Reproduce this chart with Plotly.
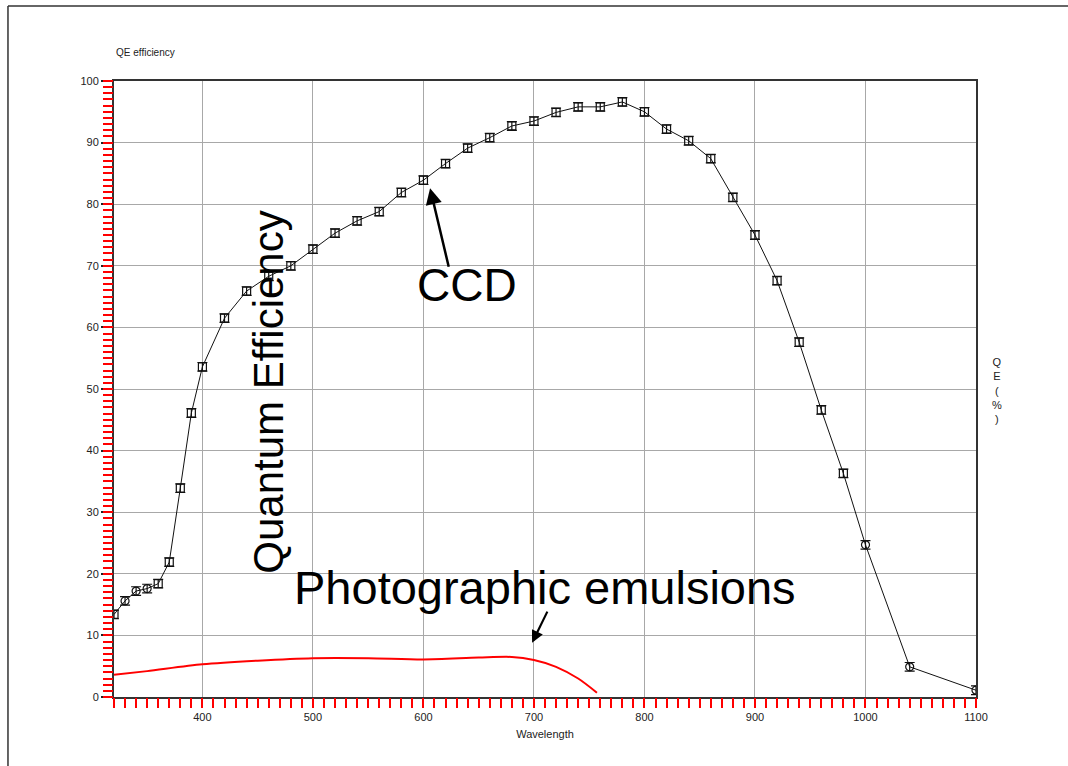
import plotly.graph_objects as go

# CCD quantum efficiency (wavelength nm, QE %)
ccd_wavelength = [320, 330, 340, 350, 360, 370, 380, 390, 400, 420, 440, 460, 480,
                  500, 520, 540, 560, 580, 600, 620, 640, 660, 680, 700, 720, 740,
                  760, 780, 800, 820, 840, 860, 880, 900, 920, 940, 960, 980, 1000,
                  1040, 1100]
ccd_qe = [13.4, 15.6, 17.2, 17.6, 18.4, 21.9, 33.9, 46.1, 53.6, 61.5, 65.9, 68.3, 70.0,
          72.7, 75.3, 77.3, 78.8, 81.9, 83.9, 86.6, 89.1, 90.8, 92.7, 93.5, 94.9, 95.8,
          95.8, 96.6, 95.0, 92.2, 90.3, 87.4, 81.1, 75.0, 67.6, 57.6, 46.6, 36.3, 24.7,
          4.9, 1.1]
ccd_err = [0.7] * len(ccd_wavelength)

# Photographic emulsion QE
photo_wavelength = [320, 350, 400, 450, 500, 550, 600, 650, 680, 700, 720, 740, 757]
photo_qe = [3.6, 4.2, 5.3, 5.9, 6.3, 6.3, 6.1, 6.4, 6.5, 6.0, 4.9, 3.0, 0.7]

x_range = [320, 1100]
y_range = [0, 100]
x_tick_start, x_tick_step, x_minor_step = 400, 100, 10
y_tick_start, y_tick_step, y_minor_step = 0, 10, 1

circle_wl = {330, 340, 350, 1000, 1040, 1100}
symbols = ["circle-open" if w in circle_wl else "square-open" for w in ccd_wavelength]

fig = go.Figure()
fig.add_trace(go.Scatter(
    x=photo_wavelength, y=photo_qe, mode="lines",
    line=dict(color="#ff0000", width=2, shape="spline", smoothing=0.8),
    showlegend=False, hoverinfo="skip"))
fig.add_trace(go.Scatter(
    x=ccd_wavelength, y=ccd_qe, mode="lines+markers",
    line=dict(color="#111111", width=1),
    marker=dict(symbol=symbols, size=8, color="#111111", line=dict(color="#111111", width=1.2)),
    error_y=dict(type="data", array=ccd_err, visible=True, color="#111111", thickness=1.2, width=5),
    showlegend=False))
fig.add_trace(go.Scatter(x=[None], y=[None], xaxis="x2", yaxis="y2", showlegend=False, hoverinfo="skip"))

axis_font = dict(family="Liberation Sans, Arial, sans-serif", size=11, color="#222222")

fig.update_layout(
    xaxis=dict(
        range=x_range, tickmode="linear", tick0=x_tick_start, dtick=x_tick_step,
        showgrid=True, gridcolor="#a8a8a8", gridwidth=1,
        showline=True, linecolor="#333333", linewidth=2, mirror=True,
        ticks="outside", ticklen=9, tickwidth=1.5, tickcolor="#222222",
        tickfont=axis_font, zeroline=False,
        title=dict(text="Wavelength", font=dict(family="Liberation Sans, Arial, sans-serif", size=11, color="#222222"), standoff=8)),
    yaxis=dict(
        range=y_range, tickmode="linear", tick0=y_tick_start, dtick=y_tick_step,
        showgrid=True, gridcolor="#a8a8a8", gridwidth=1,
        showline=True, linecolor="#333333", linewidth=2, mirror=True,
        ticks="outside", ticklen=11, tickwidth=1.5, tickcolor="#222222",
        tickfont=axis_font, zeroline=False),
    xaxis2=dict(
        overlaying="x", side="bottom", anchor="y", range=x_range,
        tickmode="linear", tick0=x_range[0], dtick=x_minor_step,
        ticks="outside", ticklen=10, tickwidth=2, tickcolor="red",
        showticklabels=False, showgrid=False, zeroline=False),
    yaxis2=dict(
        overlaying="y", side="left", anchor="x", range=y_range,
        tickmode="linear", tick0=y_range[0], dtick=y_minor_step,
        ticks="outside", ticklen=10, tickwidth=2, tickcolor="red",
        showticklabels=False, showgrid=False, zeroline=False),
)

big_font = dict(family="Liberation Sans, Arial, sans-serif", size=47, color="#000000")

fig.update_layout(
    width=1068, height=766,
    margin=dict(l=114, r=92, t=81, b=69),
    plot_bgcolor="white", paper_bgcolor="white",
    annotations=[
        dict(text="QE efficiency", xref="paper", yref="paper", x=0.0, y=1.047,
             xanchor="left", yanchor="middle", showarrow=False,
             font=dict(family="Liberation Sans, Arial, sans-serif", size=10, color="#222222")),
        dict(text="Q<br>E<br>(<br>%<br>)", xref="paper", yref="paper", x=1.0244, y=0.498,
             xanchor="center", yanchor="middle", showarrow=False,
             font=dict(family="Liberation Sans, Arial, sans-serif", size=11, color="#222222")),
        dict(text="Quantum Efficiency", x=459, y=49.5, xref="x", yref="y", textangle=-90,
             showarrow=False, xanchor="center", yanchor="middle",
             font=dict(family="Liberation Sans, Arial, sans-serif", size=42, color="#000000")),
        dict(text="CCD", x=639.5, y=66.9, xref="x", yref="y", showarrow=False,
             xanchor="center", yanchor="middle", font=dict(family="Liberation Sans, Arial, sans-serif", size=46, color="#000000")),
        dict(text="Photographic emulsions", x=710, y=17.7, xref="x", yref="y", showarrow=False,
             xanchor="center", yanchor="middle", font=big_font),
        dict(text="", x=606, y=82.6, xref="x", yref="y", ax=623.2, ay=69.6, axref="x", ayref="y",
             showarrow=True, arrowhead=2, arrowsize=1.3, arrowwidth=2.5, arrowcolor="#000000"),
        dict(text="", x=698.3, y=8.8, xref="x", yref="y", ax=712.8, ay=14.1, axref="x", ayref="y",
             showarrow=True, arrowhead=2, arrowsize=1.1, arrowwidth=2.2, arrowcolor="#000000"),
    ],
    shapes=[
        dict(type="line", xref="paper", yref="paper", x0=-0.123, x1=-0.123, y0=1.1218, y1=-0.2,
             line=dict(color="#333333", width=1.5)),
        dict(type="line", xref="paper", yref="paper", x0=-0.123, x1=1.2, y0=1.1218, y1=1.1218,
             line=dict(color="#333333", width=1.5)),
    ],
)

fig.write_html("out.html")
